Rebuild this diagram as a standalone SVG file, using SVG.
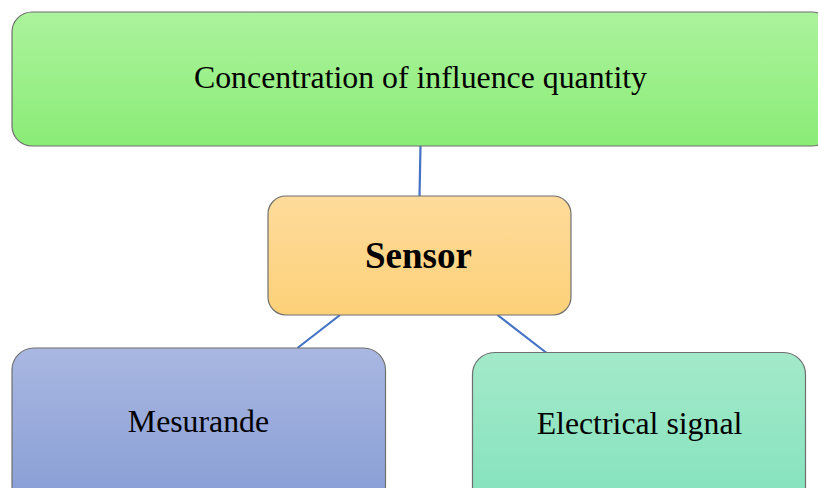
<svg xmlns="http://www.w3.org/2000/svg" width="818" height="488" viewBox="0 0 818 488">
<defs>
<linearGradient id="gGreen" x1="0" y1="0" x2="0" y2="1"><stop offset="0" stop-color="#abf39c"/><stop offset="1" stop-color="#8bec77"/></linearGradient>
<linearGradient id="gOrange" x1="0" y1="0" x2="0" y2="1"><stop offset="0" stop-color="#fedb9b"/><stop offset="1" stop-color="#fdd179"/></linearGradient>
<linearGradient id="gBlue" x1="0" y1="0" x2="0" y2="1"><stop offset="0" stop-color="#a9b7e1"/><stop offset="1" stop-color="#879dd5"/></linearGradient>
<linearGradient id="gTeal" x1="0" y1="0" x2="0" y2="1"><stop offset="0" stop-color="#a3e9ca"/><stop offset="1" stop-color="#83e2bc"/></linearGradient>
</defs>
<style>
.box{stroke:#6f6f6f;stroke-width:1.2}
.lbl{font-family:"Liberation Serif","Times New Roman",serif;font-size:31.8px;fill:#000;text-anchor:middle}
.bold{font-weight:bold;font-size:37px}
.conn line{stroke:#4472c4;stroke-width:2.2}
</style>
<g id="connectors" class="conn">
<line x1="420.5" y1="146" x2="419.5" y2="196"/>
<line x1="340" y1="315" x2="297.5" y2="348"/>
<line x1="497.5" y1="315" x2="546" y2="352.5"/>
</g>
<g id="node-concentration">
<rect class="box" x="12" y="12" width="820" height="134" rx="20" fill="url(#gGreen)"/>
<text class="lbl" x="420.5" y="88">Concentration of influence quantity</text>
</g>
<g id="node-sensor">
<rect class="box" x="268" y="196" width="303" height="119" rx="18" fill="url(#gOrange)"/>
<text class="lbl bold" x="418.5" y="268">Sensor</text>
</g>
<g id="node-mesurande">
<rect class="box" x="12" y="348" width="373.5" height="160" rx="22" fill="url(#gBlue)"/>
<text class="lbl" x="198.5" y="432">Mesurande</text>
</g>
<g id="node-electrical">
<rect class="box" x="472.5" y="352.5" width="333" height="160" rx="22" fill="url(#gTeal)"/>
<text class="lbl" x="639.5" y="434">Electrical signal</text>
</g>
</svg>
